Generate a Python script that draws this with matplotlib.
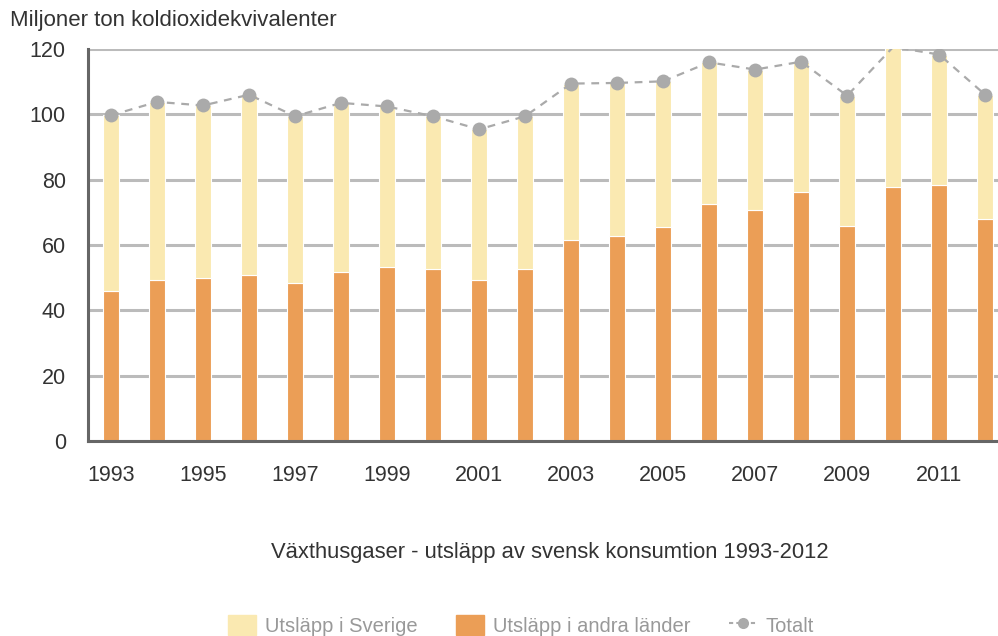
import matplotlib.pyplot as plt
import numpy as np

plt.rcParams['font.family'] = ['Liberation Sans', 'DejaVu Sans']

years = list(range(1993, 2013))
andra_lander = [46.0, 49.2, 50.0, 50.8, 48.3, 51.6, 53.2, 52.5, 49.2, 52.5,
                61.4, 62.6, 65.4, 72.4, 70.7, 76.1, 65.8, 77.7, 78.4, 67.9]
totalt = [99.7, 103.8, 102.7, 106.0, 99.4, 103.5, 102.4, 99.4, 95.4, 99.4,
          109.4, 109.6, 110.1, 115.9, 113.7, 116.1, 105.7, 120.6, 118.3, 106.0]
sverige = [t - a for t, a in zip(totalt, andra_lander)]
tick_years = [str(y) for y in range(1993, 2012, 2)]

c_sverige = '#fae9b1'
c_andra = '#eb9e56'
c_total = '#aaaaaa'
ymax = 120

fig = plt.figure(figsize=(9.98, 6.36), dpi=100)
ax = fig.add_axes([0.0882, 0.3066, 0.922, 0.6164])

x = np.arange(len(years))
ax.bar(x, andra_lander, width=0.34, color=c_andra, edgecolor='white', linewidth=0.8, zorder=3)
ax.bar(x, sverige, width=0.34, bottom=andra_lander, color=c_sverige, edgecolor='white',
       linewidth=0.8, zorder=3)
# points above the axis top get no marker, like the original
shown = [i for i, v in enumerate(totalt) if v <= ymax]
ax.plot(x, totalt, color=c_total, linestyle=(0, (3.5, 3)), linewidth=1.6, marker='o',
        markersize=10, markeredgewidth=0, markevery=shown, zorder=4)

ax.set_xlim(-0.5, 19.5)
ax.set_ylim(0, ymax)
ax.set_yticks(range(0, 121, 20))
ax.set_xticks(x[::2])
ax.set_xticklabels(tick_years)
ax.grid(axis='y', color='#bbbbbb', linewidth=2.2, zorder=1)
ax.set_axisbelow(True)
ax.tick_params(length=0, labelsize=15.5, labelcolor='#333333')
ax.tick_params(axis='y', pad=16)
ax.tick_params(axis='x', pad=17.5)
for side in ['top', 'right']:
    ax.spines[side].set_visible(False)
for side in ['left', 'bottom']:
    ax.spines[side].set_color('#666666')
    ax.spines[side].set_linewidth(2.2)
    ax.spines[side].set_zorder(5)

fig.text(0.01, 0.968, 'Miljoner ton koldioxidekvivalenter', fontsize=16, color='#333333',
         va='center', ha='left')
fig.text(0.551, 0.132, 'Växthusgaser - utsläpp av svensk konsumtion 1993-2012', fontsize=15.8,
         color='#333333', ha='center', va='center')

handles = [plt.Rectangle((0, 0), 1, 1, color=c_sverige),
           plt.Rectangle((0, 0), 1, 1, color=c_andra),
           plt.Line2D([], [], color=c_total, linestyle=(0, (2, 1.5)), marker='o',
                      markersize=8, markeredgewidth=0)]
leg = fig.legend(handles, ['Utsläpp i Sverige', 'Utsläpp i andra länder', 'Totalt'],
                 loc='center', bbox_to_anchor=(0.522, 0.017), ncol=3, frameon=False,
                 fontsize=14.5, handlelength=1.4, handleheight=1.2, columnspacing=1.9,
                 handletextpad=0.45)
for t in leg.get_texts():
    t.set_color('#999999')

fig.savefig('out.png', dpi=100)
